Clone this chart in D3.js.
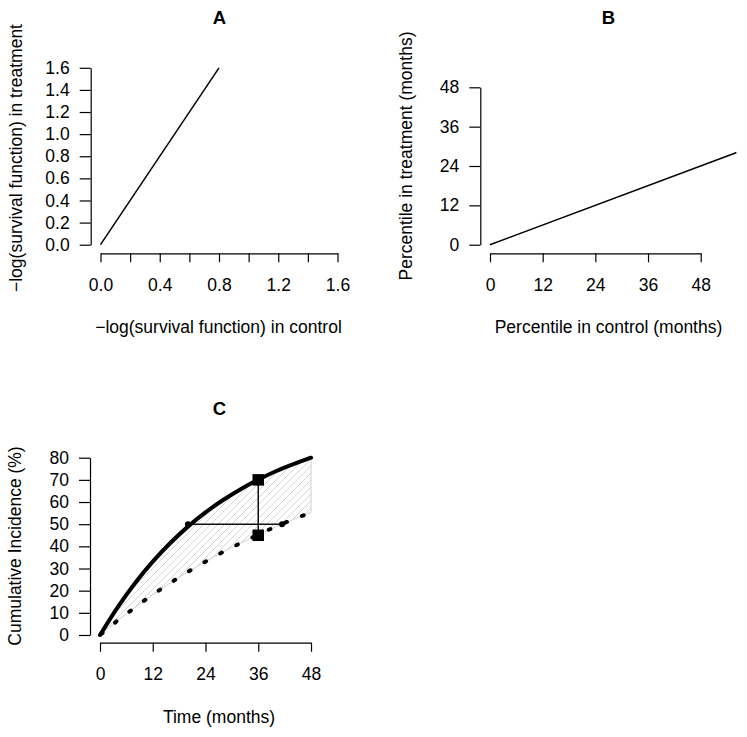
<!DOCTYPE html>
<html>
<head>
<meta charset="utf-8">
<script src="https://cdn.jsdelivr.net/npm/d3@7"></script>
<style>
  body { margin: 0; background: #fff; }
  svg { display: block; font-family: "Liberation Sans", Arial, Helvetica, sans-serif; }
</style>
</head>
<body>
<svg id="chart" width="747" height="737"></svg>
<script>
// ---------- DATA ----------
// Panel A: cumulative hazard, treatment vs control
const aControl = [0, 0.8];
const aTreatment = [0, 1.6];
const aTicks = [0, 0.2, 0.4, 0.6, 0.8, 1.0, 1.2, 1.4, 1.6];
const aXLabels = [0, 0.4, 0.8, 1.2, 1.6];

// Panel B: percentiles (months), treatment vs control
const bControl = [0, 56.2];
const bTreatment = [0, 28.1];
const bTicks = [0, 12, 24, 36, 48];

// Panel C: cumulative incidence (%) over time
const months = [0, 4, 8, 12, 16, 20, 24, 28, 32, 36, 40, 44, 48];
const ciTreatment = [0, 12.5, 23.5, 33.1, 41.5, 48.9, 55.3, 60.9, 65.8, 70.1, 73.9, 77.1, 80.0];
const ciControl = [0, 6.5, 12.5, 18.2, 23.5, 28.5, 33.1, 37.5, 41.5, 45.3, 48.9, 52.2, 55.3];
const cYTicks = [0, 10, 20, 30, 40, 50, 60, 70, 80];
const cXTicks = [0, 12, 24, 36, 48];
// horizontal comparison at 50% (time 20 vs 41.4), vertical at 36 months (70 vs 45)
const hSeg = [[20, 50], [41.4, 50]];
const vSeg = [[36, 70], [36, 45]];
const squares = [[36, 70], [36, 45]];
const dots = [[20, 50], [41.4, 50]];

// ---------- DRAWING ----------
const svg = d3.select("#chart");
const FS = 17.5;

function styleAxis(g) {
  g.selectAll("path.domain").attr("stroke", "#000").attr("stroke-width", 1.2);
  g.selectAll(".tick line").attr("stroke", "#000").attr("stroke-width", 1.2);
  g.selectAll("text").attr("font-size", FS).attr("fill", "#000")
    .attr("font-family", '"Liberation Sans", Arial, sans-serif');
}

function title(txt, x, y) {
  svg.append("text").attr("x", x).attr("y", y).attr("text-anchor", "middle")
    .attr("font-weight", "bold").attr("font-size", 18.5).text(txt);
}
function xTitle(txt, x, y) {
  svg.append("text").attr("x", x).attr("y", y).attr("text-anchor", "middle")
    .attr("font-size", FS).text(txt);
}
function yTitle(txt, x, y) {
  svg.append("text").attr("transform", `translate(${x},${y}) rotate(-90)`)
    .attr("text-anchor", "middle").attr("font-size", FS).text(txt);
}

// ===== Panel A =====
{
  const x = d3.scaleLinear().domain([0, 1.6]).range([100.5, 337.5]);
  const y = d3.scaleLinear().domain([0, 1.6]).range([244.7, 67.8]);
  const gy = svg.append("g").attr("transform", "translate(90.7,0)")
    .call(d3.axisLeft(y).tickValues(aTicks).tickFormat(d3.format(".1f")).tickSize(11).tickSizeOuter(0).tickPadding(10));
  styleAxis(gy);
  const gx = svg.append("g").attr("transform", "translate(0,253.3)")
    .call(d3.axisBottom(x).tickValues(aTicks)
      .tickFormat(d => aXLabels.some(v => Math.abs(v - d) < 1e-9) ? d3.format(".1f")(d) : "")
      .tickSize(9).tickSizeOuter(0).tickPadding(16));
  styleAxis(gx);
  const line = d3.line().x((d, i) => x(aControl[i])).y((d, i) => y(aTreatment[i]));
  svg.append("path").datum(aControl).attr("d", line).attr("fill", "none")
    .attr("stroke", "#000").attr("stroke-width", 1.5);
  title("A", 219.5, 24);
  xTitle("\u2212log(survival function) in control", 218.5, 333);
  yTitle("\u2212log(survival function) in treatment", 22, 158);
}

// ===== Panel B =====
{
  const x = d3.scaleLinear().domain([0, 48]).range([490, 700.7]);
  const y = d3.scaleLinear().domain([0, 48]).range([244.7, 87.3]);
  svg.append("clipPath").attr("id", "clipB").append("rect")
    .attr("x", x(-2.16)).attr("y", y(56.16)).attr("width", x(56.16) - x(-2.16)).attr("height", y(-2.16) - y(56.16));
  const gy = svg.append("g").attr("transform", "translate(480.3,0)")
    .call(d3.axisLeft(y).tickValues(bTicks).tickSize(11).tickSizeOuter(0).tickPadding(10));
  styleAxis(gy);
  const gx = svg.append("g").attr("transform", "translate(0,253.3)")
    .call(d3.axisBottom(x).tickValues(bTicks).tickSize(9).tickSizeOuter(0).tickPadding(16));
  styleAxis(gx);
  const line = d3.line().x((d, i) => x(bControl[i])).y((d, i) => y(bTreatment[i]));
  svg.append("path").datum(bControl).attr("d", line).attr("fill", "none")
    .attr("stroke", "#000").attr("stroke-width", 1.5).attr("clip-path", "url(#clipB)");
  title("B", 608.5, 24);
  xTitle("Percentile in control (months)", 608.5, 333);
  yTitle("Percentile in treatment (months)", 412, 156);
}

// ===== Panel C =====
{
  const x = d3.scaleLinear().domain([0, 48]).range([100, 311]);
  const y = d3.scaleLinear().domain([0, 80]).range([635, 457.7]);

  const defs = svg.append("defs");
  const pat = defs.append("pattern").attr("id", "hatch").attr("patternUnits", "userSpaceOnUse")
    .attr("width", 7).attr("height", 7);
  pat.append("path").attr("d", "M0,7 L7,0 M-1,1 L1,-1 M6,8 L8,6")
    .attr("stroke", "#d4d4d4").attr("stroke-width", 1);

  // shaded area between curves
  const area = d3.area().curve(d3.curveMonotoneX)
    .x((d, i) => x(months[i])).y0((d, i) => y(ciControl[i])).y1((d, i) => y(ciTreatment[i]));
  svg.append("path").datum(months).attr("d", area)
    .attr("fill", "url(#hatch)").attr("stroke", "#d0d0d0").attr("stroke-width", 1);

  const gy = svg.append("g").attr("transform", "translate(90,0)")
    .call(d3.axisLeft(y).tickValues(cYTicks).tickSize(11).tickSizeOuter(0).tickPadding(10));
  styleAxis(gy);
  const gx = svg.append("g").attr("transform", "translate(0,642.7)")
    .call(d3.axisBottom(x).tickValues(cXTicks).tickSize(9).tickSizeOuter(0).tickPadding(16));
  styleAxis(gx);

  const lineT = d3.line().curve(d3.curveMonotoneX).x((d, i) => x(months[i])).y((d, i) => y(ciTreatment[i]));
  const lineC = d3.line().curve(d3.curveMonotoneX).x((d, i) => x(months[i])).y((d, i) => y(ciControl[i]));

  svg.append("path").datum(months).attr("d", lineC).attr("fill", "none")
    .attr("stroke", "#000").attr("stroke-width", 4).attr("stroke-linecap", "round")
    .attr("stroke-dasharray", "1.8 16.2").attr("stroke-dashoffset", -1.5);

  svg.append("path").datum(months).attr("d", lineT).attr("fill", "none")
    .attr("stroke", "#000").attr("stroke-width", 4).attr("stroke-linecap", "round");

  const seg = d3.line().x(d => x(d[0])).y(d => y(d[1]));
  svg.append("path").attr("d", seg(hSeg)).attr("stroke", "#111").attr("stroke-width", 1.5).attr("fill", "none");
  svg.append("path").attr("d", seg(vSeg)).attr("stroke", "#111").attr("stroke-width", 1.5).attr("fill", "none");

  svg.selectAll("circle.pt").data(dots).enter().append("circle").attr("class", "pt")
    .attr("cx", d => x(d[0])).attr("cy", d => y(d[1])).attr("r", 3).attr("fill", "#000");
  const S = 11.5;
  svg.selectAll("rect.sq").data(squares).enter().append("rect").attr("class", "sq")
    .attr("x", d => x(d[0]) - S / 2).attr("y", d => y(d[1]) - S / 2)
    .attr("width", S).attr("height", S).attr("fill", "#000");

  title("C", 219.5, 415);
  xTitle("Time (months)", 219, 723);
  yTitle("Cumulative Incidence (%)", 21, 546);
}
</script>
</body>
</html>
